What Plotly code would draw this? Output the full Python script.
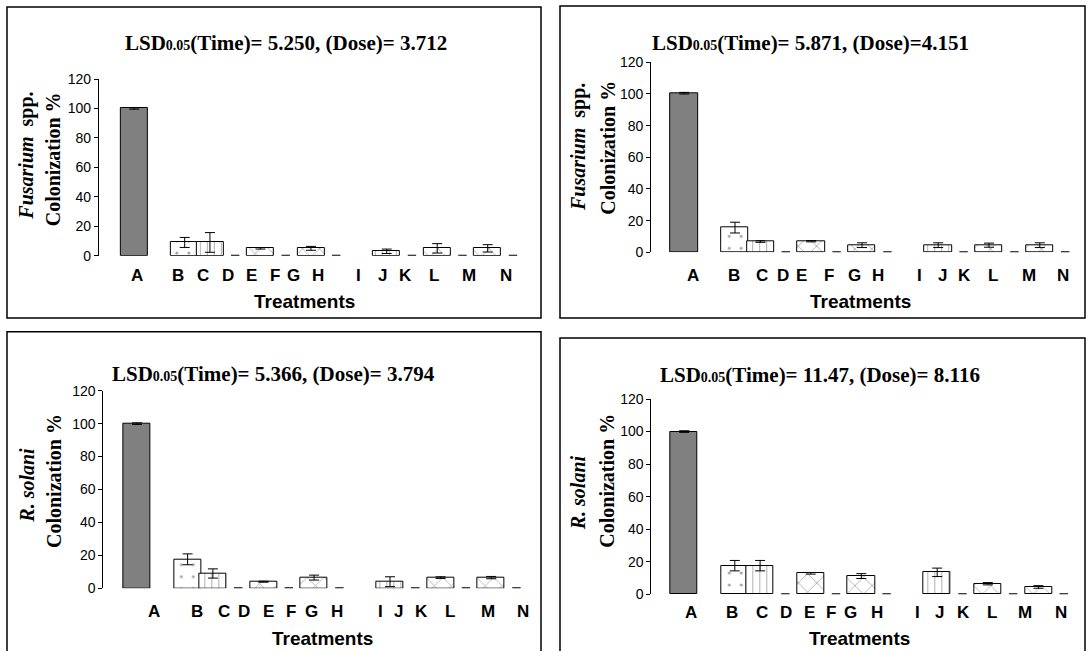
import plotly.graph_objects as go

W, H = 1088, 651

# ---------------- data ----------------
treatments = ["A", "B", "C", "D", "E", "F", "G", "H", "I", "J", "K", "L", "M", "N"]

# panel 1: Fusarium spp. (time 1)
fus1_mean = [100, 9, 9, 0, 5, 0, 5, 0, 3, 0, 5, 0, 5, 0]
fus1_err = [0.5, 3.4, 6.7, 0, 0.5, 0, 1.3, 0, 1.5, 0, 3.2, 0, 2.5, 0]
# panel 2: Fusarium spp. (time 2)
fus2_mean = [100.5, 15.6, 6.8, 0, 7, 0, 4.5, 0, 4.5, 0, 4.5, 0, 4.5, 0]
fus2_err = [0.5, 3.4, 0.5, 0, 0.4, 0, 1.5, 0, 1.5, 0, 1.3, 0, 1.5, 0]
# panel 3: R. solani (time 1)
rs1_mean = [100, 17.6, 9, 0, 4, 0, 6.5, 0, 4, 0, 6.5, 0, 6.5, 0]
rs1_err = [0.5, 3.3, 2.8, 0, 0.3, 0, 1.5, 0, 3, 0, 0.5, 0, 0.7, 0]
# panel 4: R. solani (time 2)
rs2_mean = [100, 17.6, 17.6, 0, 12.9, 0, 11.2, 0, 13.5, 0, 6.5, 0, 4.5, 0]
rs2_err = [0.5, 3.2, 3.2, 0, 0.5, 0, 1.5, 0, 2.6, 0, 0.7, 0, 0.8, 0]

titles = [
    ("5.250", " 3.712"),
    ("5.871", "4.151"),
    ("5.366", " 3.794"),
    ("11.47", " 8.116"),
]
ylabels_line1 = ["<b><i>Fusarium</i>&nbsp; spp.</b>", "<b><i>Fusarium</i>&nbsp; spp.</b>",
                 "<b><i>R. solani</i></b>", "<b><i>R. solani</i></b>"]
ylabel_line2 = "<b>Colonization %</b>"
xlabel = "<b>Treatments</b>"
y_ticks = [0, 20, 40, 60, 80, 100, 120]

# ---------------- layout / style ----------------
slot_index = [0, 2, 3, 4, 5, 6, 7, 8, 10, 11, 12, 13, 14, 15]
label_pos = [
    [0.12, 1.74, 2.73, 3.70, 4.66, 5.56, 6.32, 7.28, 8.90, 9.82, 10.73, 11.87, 13.27, 14.72],
    [0.35, 1.95, 3.08, 3.90, 4.63, 5.70, 6.69, 7.63, 9.27, 10.17, 11.04, 12.17, 13.57, 14.93],
    [0.68, 2.39, 3.42, 4.24, 5.19, 6.09, 6.88, 7.89, 9.62, 10.33, 11.26, 12.38, 13.89, 15.26],
    [0.25, 1.89, 3.06, 4.01, 4.97, 5.79, 6.57, 7.61, 9.22, 10.11, 11.02, 12.16, 13.46, 14.90],
]
pat_shape = ["", ".", "|", "", "x", "", "x", "", "|", "", "x", "", "x", ""]
pat_size = [8, 12, 7, 8, 13, 8, 12, 8, 7, 8, 12, 8, 12, 8]
pat_solid = [0.1, 0.05, 0.12, 0.1, 0.12, 0.1, 0.12, 0.1, 0.12, 0.1, 0.12, 0.1, 0.12, 0.1]
bar_fill = ["#808080"] + ["white"] * 13

# pixel geometry for each panel (page pixels)
panels = [
    dict(slot0=134.2, sw=25.25, rmin=-1.4, rmax=15.6, y0=255.7, y120=79.0,
         title=(285.5, 43.5), yl1=(26.7, 156), yl2=(53.3, 159), lab_y=275, xt=(304, 301),
         border=(7, 7, 541, 318)),
    dict(slot0=684.2, sw=25.4, rmin=-1.3, rmax=15.6, y0=252.3, y120=62.3,
         title=(810, 43.5), yl1=(578.3, 146.7), yl2=(607.7, 148), lab_y=275, xt=(860, 301),
         border=(560, 6, 1085, 318)),
    dict(slot0=137.0, sw=25.3, rmin=-1.33, rmax=15.6, y0=588.3, y120=390.7,
         title=(273.7, 373.5), yl1=(26.7, 485), yl2=(53.3, 480.7), lab_y=611.7, xt=(322.5, 638.5),
         border=(7, 331.7, 541, 670)),
    dict(slot0=684.2, sw=25.3, rmin=-1.3, rmax=15.6, y0=594.3, y120=399.0,
         title=(820.4, 375), yl1=(578.3, 493), yl2=(606.7, 481), lab_y=612.3, xt=(859.3, 638.5),
         border=(560, 338, 1085, 670)),
]
series = [(fus1_mean, fus1_err), (fus2_mean, fus2_err), (rs1_mean, rs1_err), (rs2_mean, rs2_err)]


def px(x):
    return x / W


def py(y):
    return 1 - y / H


SERIF = "Liberation Serif, Times New Roman, serif"
SANS = "Liberation Sans, Arial, sans-serif"

fig = go.Figure()
layout = dict(width=W, height=H, margin=dict(l=0, r=0, t=0, b=0, pad=0, autoexpand=False),
              paper_bgcolor="white", plot_bgcolor="rgba(0,0,0,0)",
              showlegend=False, bargap=0)
annotations = []
shapes = []

for i, (p, (mean, err)) in enumerate(zip(panels, series)):
    sfx = "" if i == 0 else str(i + 1)
    xa, ya = "x" + sfx, "y" + sfx
    x0 = p["slot0"] + p["rmin"] * p["sw"]
    x1 = p["slot0"] + p["rmax"] * p["sw"]
    layout["xaxis" + sfx] = dict(domain=[px(x0), px(x1)], range=[p["rmin"], p["rmax"]],
                                 visible=False, anchor=ya, fixedrange=True, automargin=False)
    layout["yaxis" + sfx] = dict(domain=[py(p["y0"]), py(p["y120"])], range=[0, 120],
                                 tickvals=y_ticks, showline=True, linecolor="black", linewidth=1,
                                 ticks="outside", ticklen=4, tickcolor="black", tickwidth=1,
                                 tickfont=dict(family=SANS, size=14, color="black"),
                                 showgrid=False, zeroline=False, anchor=xa, fixedrange=True,
                                 automargin=False)

    idx = [k for k, v in enumerate(mean) if v != 0]
    zidx = [k for k, v in enumerate(mean) if v == 0]
    fig.add_trace(go.Bar(
        x=[slot_index[k] for k in idx], y=[mean[k] for k in idx],
        width=1.07, xaxis=xa, yaxis=ya,
        marker=dict(color=[bar_fill[k] for k in idx],
                    line=dict(color="black", width=1),
                    pattern=dict(shape=[pat_shape[k] for k in idx],
                                 size=[pat_size[k] for k in idx],
                                 solidity=[pat_solid[k] for k in idx],
                                 fgcolor="#222222", fillmode="overlay")),
        error_y=dict(type="data", array=[err[k] for k in idx], symmetric=True,
                     color="black", thickness=1, width=5),
    ))
    fig.add_trace(go.Scatter(
        x=[slot_index[k] for k in zidx], y=[mean[k] for k in zidx],
        mode="markers", xaxis=xa, yaxis=ya,
        marker=dict(symbol="line-ew", size=6, line=dict(color="black", width=2)),
    ))

    t_time, t_dose = titles[i]
    annotations.append(dict(
        text=f"<b>LSD<span style='font-size:14px'>0.05</span>(Time)= {t_time}, (Dose)={t_dose}</b>",
        xref="paper", yref="paper", x=px(p["title"][0]), y=py(p["title"][1]),
        xanchor="center", yanchor="middle", showarrow=False,
        font=dict(family=SERIF, size=21, color="black")))
    annotations.append(dict(
        text=ylabels_line1[i], textangle=-90, xref="paper", yref="paper",
        x=px(p["yl1"][0]), y=py(p["yl1"][1]), xanchor="center", yanchor="middle",
        showarrow=False, font=dict(family=SERIF, size=20, color="black")))
    annotations.append(dict(
        text=ylabel_line2, textangle=-90, xref="paper", yref="paper",
        x=px(p["yl2"][0]), y=py(p["yl2"][1]), xanchor="center", yanchor="middle",
        showarrow=False, font=dict(family=SERIF, size=20, color="black")))
    for lab, lx in zip(treatments, label_pos[i]):
        annotations.append(dict(
            text=f"<b>{lab}</b>", xref=xa, yref="paper", x=lx, y=py(p["lab_y"]),
            xanchor="center", yanchor="middle", showarrow=False,
            font=dict(family=SANS, size=17, color="black")))
    annotations.append(dict(
        text=xlabel, xref="paper", yref="paper", x=px(p["xt"][0]), y=py(p["xt"][1]),
        xanchor="center", yanchor="middle", showarrow=False,
        font=dict(family=SANS, size=19, color="black")))
    bx0, by0, bx1, by1 = p["border"]
    shapes.append(dict(type="rect", xref="paper", yref="paper",
                       x0=px(bx0), x1=px(bx1), y0=py(by1), y1=py(by0),
                       line=dict(color="black", width=1.5), fillcolor="rgba(0,0,0,0)"))

layout["annotations"] = annotations
layout["shapes"] = shapes
fig.update_layout(**layout)
fig.write_html("out.html", config={"displayModeBar": False},
               post_script="document.body.style.margin='0px';document.body.style.overflow='hidden';")
